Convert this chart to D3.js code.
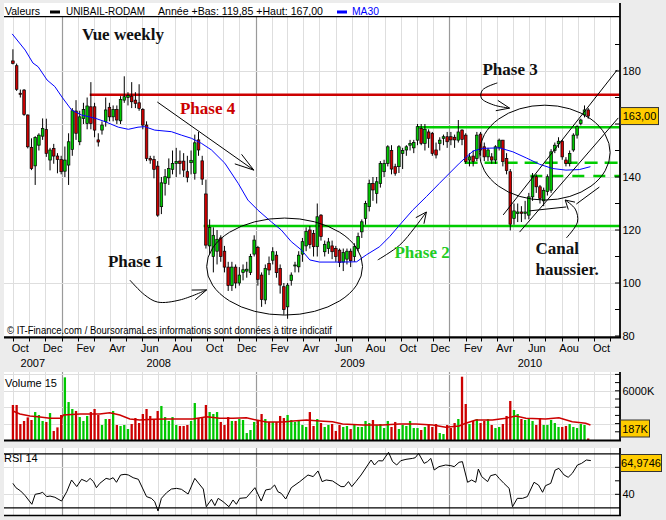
<!DOCTYPE html>
<html>
<head>
<meta charset="utf-8">
<script src="https://cdn.jsdelivr.net/npm/d3@7/dist/d3.min.js"></script>
<style>
html,body{margin:0;padding:0;background:#ececec;overflow:hidden;}
svg{display:block;font-family:"Liberation Sans",Arial,sans-serif;}
</style>
</head>
<body>
<svg id="chart" width="666" height="520"></svg>
<script>
// ================= DATA =================
const stockName = "UNIBAIL-RODAM";
const headerStats = "Année +Bas: 119,85 +Haut: 167,00";
const maLabel = "MA30";
const volumeLabel = "Volume 15";
const rsiLabel = "RSI 14";
const copyright = "© IT-Finance.com / BoursoramaLes informations sont données à titre indicatif";
const firstWeek = [2007, 9, 1];          // weekly candles start Monday 1 Oct 2007
const monthNames = ["Jan","Fev","Mar","Avr","Mai","Jun","Jul","Aou","Sep","Oct","Nov","Dec"];

const opens = [183.8,182.0,171.6,172.8,163.4,151.2,144.2,152.0,155.4,157.9,
 146.4,150.8,147.9,146.6,142.2,144.5,150.4,164.9,153.3,162.1,
 160.2,166.5,166.5,154.0,157.7,160.9,166.3,162.7,165.5,161.2,
 169.0,170.0,170.5,169.0,168.0,165.5,159.6,147.0,146.6,144.1,
 128.8,137.6,139.7,142.9,145.1,146.0,146.0,142.0,145.4,141.4,
 154.0,146.1,133.6,114.0,110.0,112.0,117.0,112.0,106.0,99.0,
 106.0,100.0,104.0,104.5,104.0,110.9,113.4,103.0,93.6,107.4,
 108.6,110.5,105.5,98.6,91.0,101.0,106.5,106.1,110.9,114.0,
 120.0,118.7,113.7,125.6,111.8,113.0,114.0,113.0,112.4,107.9,
 109.0,112.0,110.0,113.0,119.3,124.4,128.8,137.6,133.8,137.6,
 142.0,145.1,150.0,143.9,143.9,148.9,150.2,152.0,151.0,153.9,
 158.3,152.7,157.0,156.5,150.2,152.7,154.6,155.2,155.2,155.0,
 153.9,157.7,155.8,146.4,147.9,147.0,156.2,151.4,147.6,147.6,
 146.4,151.0,153.9,147.0,142.0,124.4,126.2,126.8,126.3,125.6,
 132.5,140.1,136.3,131.0,134.5,135.0,150.0,152.5,153.5,146.4,
 145.1,150.2,155.8,160.2,163.4,165.3];
const highs = [188.2,182.8,173.0,173.2,163.6,154.6,155.4,156.5,162.1,162.0,
 151.0,152.5,149.0,148.0,151.5,156.5,166.0,169.0,165.0,168.0,
 170.0,175.8,168.0,156.5,161.0,170.0,168.0,167.0,167.0,170.5,
 178.0,172.0,175.8,172.0,175.0,166.0,161.0,148.0,148.0,146.0,
 140.0,143.0,147.0,150.0,151.0,150.0,149.0,148.0,150.0,156.0,
 157.0,148.0,139.0,124.0,121.0,120.0,118.0,114.0,108.0,108.0,
 107.0,106.0,107.0,108.0,111.0,118.0,114.0,104.0,107.0,110.0,
 113.5,112.0,107.0,100.0,100.0,104.0,108.0,112.0,117.0,121.0,
 121.5,120.0,130.0,126.0,116.0,117.0,116.0,114.0,113.0,113.0,
 113.0,113.0,115.0,119.0,124.0,131.0,139.0,140.0,140.0,146.0,
 146.5,152.0,152.0,145.0,152.0,151.0,152.0,154.0,154.0,160.0,
 160.0,160.0,158.0,157.0,153.0,155.0,156.0,157.0,157.0,156.0,
 161.5,158.0,156.5,149.0,150.0,157.0,157.0,153.0,151.0,149.0,
 152.0,154.5,154.0,149.0,143.0,130.0,130.0,129.0,131.0,134.0,
 141.5,141.0,137.0,136.0,141.0,150.5,153.0,155.0,154.0,147.5,
 150.0,156.5,159.5,162.0,167.0,166.0];
const lows = [182.5,172.5,170.0,163.1,150.8,142.6,137.0,150.0,154.0,147.6,
 142.5,145.0,141.4,141.0,140.0,137.0,148.0,154.0,152.0,160.0,
 158.0,158.0,155.0,151.5,156.0,159.0,161.0,161.0,160.0,160.0,
 168.0,167.0,166.0,166.0,165.0,158.0,146.0,145.0,139.5,125.0,
 126.0,133.0,137.0,141.0,140.0,141.0,140.0,138.0,141.0,139.0,
 148.0,137.0,113.0,111.0,104.0,107.0,108.0,104.0,97.0,97.0,
 98.0,99.0,101.0,102.0,103.0,110.0,99.0,91.0,92.0,103.0,
 107.0,102.0,96.0,88.0,86.5,99.0,104.0,104.0,108.0,112.0,
 113.0,110.0,110.0,116.0,110.0,111.0,109.0,108.0,106.0,104.5,
 107.0,106.0,108.0,112.0,117.0,122.0,127.0,131.0,130.0,136.0,
 140.0,144.0,141.0,140.5,141.5,143.0,148.0,150.0,149.0,152.0,
 152.0,150.0,151.0,148.0,147.0,150.0,152.0,151.0,152.0,151.0,
 153.0,152.0,145.0,144.0,144.0,146.0,148.0,146.0,146.0,145.0,
 145.0,150.0,144.0,141.0,119.85,122.0,123.0,123.0,124.0,124.0,
 131.0,134.0,130.0,129.0,133.0,134.0,149.0,151.0,146.5,144.0,
 144.0,149.5,154.5,159.5,162.5,162.0];
const closes = [182.9,173.1,171.2,163.6,151.4,143.2,154.9,155.8,158.3,148.9,
 150.2,147.9,146.6,142.0,146.4,153.3,165.0,156.5,162.7,165.5,
 166.8,160.2,157.7,153.2,159.6,165.3,162.7,165.5,161.5,169.3,
 170.3,170.7,168.4,167.8,165.9,159.6,147.0,146.4,142.9,125.6,
 137.8,140.1,143.2,145.1,145.9,145.1,142.6,139.9,146.3,152.9,
 150.2,139.2,114.3,121.0,118.0,116.5,110.0,106.0,99.0,106.0,
 100.0,103.0,105.0,105.2,110.0,116.2,101.4,93.8,105.5,104.9,
 111.8,103.9,99.2,90.0,99.2,103.0,106.8,110.5,115.6,119.5,
 114.5,113.7,125.0,117.5,114.6,115.5,111.8,110.0,107.7,111.5,
 112.0,108.4,113.7,117.5,123.1,130.0,137.6,135.1,138.2,145.1,
 145.1,151.4,143.0,141.4,151.4,150.0,151.4,152.7,153.0,159.0,
 152.7,158.0,154.6,148.9,148.3,153.9,155.2,153.3,154.0,154.0,
 157.0,154.2,145.8,147.6,145.8,155.8,150.2,147.6,150.2,146.4,
 151.4,153.9,145.8,142.4,122.2,127.2,126.8,126.3,126.8,132.5,
 140.1,136.3,131.9,135.0,140.1,149.5,152.0,153.5,147.6,145.1,
 148.9,155.8,159.0,161.5,165.3,163.0];
// weekly volume, in thousands of shares (K)
const volumes = [4270,4270,1950,2320,2760,2440,3410,3050,2320,2200,
 3290,1100,1540,3050,7640,4630,3780,3540,2800,2320,
 2930,3410,3780,3050,1830,2560,2560,3540,1830,1710,
 1830,1340,1950,2680,2070,3170,3780,2930,2440,3540,
 4150,2800,2320,2800,1830,1710,1710,1830,2320,4510,
 2680,2680,4270,3410,3170,3410,2200,1830,2800,2320,
 2320,2560,2440,850,1220,2200,2440,3170,2560,2200,
 2200,2200,2930,2680,3050,2440,2200,2440,1830,1590,
 3410,1710,2560,2070,1590,1830,1950,1100,1830,1590,
 1710,1340,1830,1590,1590,2320,2070,2440,1830,1950,
 1460,2320,1590,2200,1340,1830,1710,2320,1460,1460,
 1220,1590,1950,1590,1950,850,730,1830,1460,2070,
 2560,7720,4390,1950,2320,2560,2070,2320,2560,1830,
 1460,1590,1950,2930,4760,3660,3170,2560,2440,2680,
 2320,1830,2680,1830,1830,2440,2070,1590,1590,1710,
 1950,1590,1460,1950,1830,187];

// MA30 of price (week index, value)
const ma30Week = [-0.2,3.3,5.4,6.8,9.2,11.3,13.2,15.8,18.5,22.1,24.8,28.4,31.1,33.7,35.5,38.2,42.7,45.4,48.1,50.8,53.5,57.1,60.7,63.3,66.0,69.6,72.3,75.0,77.7,80.0,82.6,88.0,92.6,95.2,98.8,101.5,104.2,107.7,111.4,114.9,117.6,120.3,122.1,124.0,126.5,131.1,134.7,138.3,141.9,145.4,149.0,152.6,155.6];
const ma30Value = [194.0,187.9,183.0,181.6,176.6,174.1,170.2,165.3,163.4,162.2,160.9,158.8,158.0,158.8,159.0,157.7,157.1,155.8,154.6,152.7,150.2,145.2,137.6,131.3,127.5,123.1,120.0,115.6,112.5,108.7,107.9,107.9,108.0,110.6,113.7,117.5,121.9,127.5,132.6,137.6,141.4,145.2,147.5,149.8,150.8,151.0,149.5,147.2,144.8,143.2,142.6,142.8,143.9];

// Volume moving average (15)
const volMaWeek = [0,1.9,4.6,7.3,10.0,13.1,13.6,18.1,23.4,26.1,28.8,31.5,34.2,37.8,41.4,45.0,48.5,52.2,55.7,59.3,62.9,65.6,68.3,72.8,75.5,79.1,82.6,86.1,88.8,94.2,99.6,104.1,108.6,113.1,116.6,120.2,122.0,124.7,129.2,132.8,135.5,138.2,143.5,147.1,150.7,154.3,155.6];
const volMaValue = [3540,3170,2930,2800,2650,2650,3050,3170,3170,3330,3050,2560,2440,2520,2560,2560,2560,2840,2650,2650,2720,2440,2200,2200,2320,2440,2320,2230,1950,1830,1830,1950,1950,1830,1550,1710,2040,2440,2440,2650,2930,2650,2560,2720,2230,2040,1830];

// RSI 14
const rsiWeek = [0.0,0.8,2.1,3.3,5.1,6.0,7.3,8.0,9.1,10.0,11.3,13.1,14.5,15.8,17.2,18.5,19.9,20.8,21.7,22.5,23.4,25.1,26.1,27.0,27.9,29.0,30.2,31.1,32.4,33.8,36.0,37.3,38.2,39.1,40.0,41.4,42.7,44.1,45.4,47.2,49.0,50.4,51.3,52.1,53.5,54.4,55.3,56.6,58.2,59.3,60.2,61.1,62.9,65.2,66.9,68.1,69.4,70.5,71.4,72.3,73.5,75.0,77.3,79.5,80.9,82.2,83.3,84.4,86.1,88.4,89.3,90.4,91.3,92.4,93.8,94.7,96.5,97.4,98.5,99.6,101.2,102.3,103.4,104.5,105.9,107.7,108.4,109.3,110.8,111.7,112.6,113.5,114.8,116.6,118.0,118.9,120.2,121.1,122.5,123.6,124.7,125.4,126.3,127.9,128.7,130.1,131.0,132.3,133.7,134.6,135.9,137.3,138.6,140.4,141.6,142.7,143.5,144.9,146.1,147.1,148.5,149.6,150.7,152.1,153.2,154.5,155.7];
const rsiValue = [48.1,44.9,42.4,39.0,32.6,40.0,40.7,41.5,38.3,38.7,37.8,35.0,41.9,50.6,45.7,51.1,49.4,51.8,49.4,44.9,48.1,51.8,51.1,52.3,48.9,54.3,54.8,54.3,52.3,51.1,38.3,37.0,34.6,27.6,37.0,41.2,43.9,44.4,43.7,40.2,51.8,46.9,43.9,30.8,36.3,31.6,37.0,34.6,30.8,35.8,32.6,37.0,37.5,44.9,35.0,43.2,43.9,46.9,41.9,40.7,36.5,44.9,49.4,54.3,53.1,57.3,49.4,50.6,49.9,45.7,45.7,49.4,45.7,49.4,54.3,58.0,65.4,61.7,64.9,64.7,71.1,64.2,61.7,64.9,65.9,66.6,67.1,70.3,62.9,64.2,66.6,58.0,60.5,61.7,61.2,60.5,63.7,64.2,48.9,50.6,48.9,58.7,53.1,49.4,53.8,54.8,51.8,48.1,44.4,30.8,37.0,37.0,38.3,48.9,46.9,41.5,46.4,48.1,58.0,59.2,54.3,52.6,55.5,61.7,62.9,65.4,64.97];

const priceTicks = [80,100,120,140,160,180];
const volTicks = [2000,6000];
const rsiTicks = [40,60];
const lastPriceLabel = "163,00";
const lastVolLabel = "187K";
const lastRsiLabel = "64,9746";

// Hand-drawn analysis (week index, price)
const redLevel = {from:20.7, price:171};
const greenLevels = [{from:51.4, price:121.5}, {from:109.1, price:158.8}];
const dashedLevels = [{from:121.7, price:145.4}, {from:139.4, price:140.4}];
const channelUpper = [[132.1,125.7],[162.8,180.4]];
const channelLower = [[136.5,119.2],[163.1,162.3]];
const phase4Arrow = [[38.9,168.3],[64.9,142.6]];
const phase1Arrow = [[31.5,101.1],[35.5,95.5],[39.0,92.8],[45.0,93.6],[52.2,97.4]];
const phase2Arrow = [[98.3,108.7],[104.2,114.3],[108.2,120.8],[111.4,126.8]];
const phase3Arrow = [[130.5,175.5],[126.5,172.8],[126.2,169.8],[129.5,167.2],[133.8,166.0]];
const canalArrow = [[149.1,117.0],[152.1,123.0],[151.5,127.9],[148.8,131.3]];
const canalStrokes = [[[139.1,127.2],[149.1,128.7]], [[151.8,129.8],[158.0,136.2]]];
const ellipses = [{week:73.2, price:106.2, rw:21, rp:18.3}, {week:143.3, price:149.2, rw:17.6, rp:17.9}];
const noteText = ["Vue weekly","Phase 4","Phase 3","Phase 1","Phase 2","Canal","haussier."];
const noteWeek = [18.6, 45.0, 126.5, 25.6, 102.8, 140.8, 140.8];
const notePrice = [191.7, 163.8, 178.5, 106.2, 109.3, 110.9, 103.0];

// ================= DRAWING =================
const RED = "#cc0000", GREEN = "#00c800", NOTE_GREEN = "#22cc22";
const svg = d3.select("#chart");
const L = 4, R = 620;
const mainTop = 3, headerLine = 16.7, mainBot = 337;
const volTop = 372, volBot = 441;
const rsiTop = 448, rsiBot = 516;

const t0 = new Date(firstWeek[0], firstWeek[1], firstWeek[2]).getTime();
const weekDate = i => new Date(t0 + i * 7 * 864e5);
const x = d3.scaleTime().domain([new Date(2008,0,1), new Date(2010,0,1)]).range([61.7, 449.3]);
const xi = i => x(weekDate(i));
const yP = d3.scaleLinear().domain([80,200]).range([336,18]);
const yV = d3.scaleLinear().domain([0,8000]).range([440,374.4]);
const yR = d3.scaleLinear().domain([30,70]).range([507.8,453.8]);

svg.append("rect").attr("width",666).attr("height",520).attr("fill","#ececec");
[[mainTop,mainBot],[volTop,volBot],[rsiTop,rsiBot]].forEach(([t,b]) =>
  svg.append("rect").attr("x",L).attr("y",t).attr("width",R-L).attr("height",b-t).attr("fill","#fff"));

const defs = svg.append("defs");
defs.append("clipPath").attr("id","clipMain").append("rect").attr("x",L).attr("y",headerLine+0.5).attr("width",R-L).attr("height",mainBot-headerLine-0.5);

// vertical gridlines (months, darker for years)
const monthStarts = d3.timeMonth.range(new Date(2007,8,1), new Date(2010,11,2));
const grid = svg.append("g");
monthStarts.forEach(d => {
  const xx = Math.round(x(d)) + 0.5;
  if (xx <= L + 1 || xx >= R - 1) return;
  const yearLine = d.getMonth() === 0;
  [[headerLine, mainBot],[volTop, volBot],[rsiTop, rsiBot]].forEach(([a,b]) =>
    grid.append("line").attr("x1",xx).attr("x2",xx).attr("y1",a).attr("y2",b)
      .attr("stroke", yearLine ? "#9a9a9a" : "#dedede").attr("stroke-width", yearLine ? 1.2 : 1));
});
// horizontal gridlines
priceTicks.filter(v => v > 80).forEach(v => grid.append("line").attr("x1",L).attr("x2",R)
  .attr("y1",Math.round(yP(v))+0.5).attr("y2",Math.round(yP(v))+0.5).attr("stroke","#dedede"));
[2000,4000,6000,8000].forEach(v => grid.append("line").attr("x1",L).attr("x2",R)
  .attr("y1",Math.round(yV(v))+0.5).attr("y2",Math.round(yV(v))+0.5).attr("stroke","#dedede"));
rsiTicks.forEach(v => grid.append("line").attr("x1",L).attr("x2",R)
  .attr("y1",Math.round(yR(v))+0.5).attr("y2",Math.round(yR(v))+0.5).attr("stroke","#dedede"));

// ---- header ----
const hdr = svg.append("g").attr("font-size",11).attr("fill","#000");
hdr.append("text").attr("x",5).attr("y",15.3).attr("textLength",35).attr("lengthAdjust","spacingAndGlyphs").text("Valeurs");
hdr.append("rect").attr("x",50).attr("y",10.5).attr("width",10).attr("height",3).attr("fill","#000");
hdr.append("text").attr("x",66).attr("y",15.3).attr("textLength",79).attr("lengthAdjust","spacingAndGlyphs").text(stockName);
hdr.append("text").attr("x",158).attr("y",15.3).attr("textLength",165).attr("lengthAdjust","spacingAndGlyphs").text(headerStats);
hdr.append("rect").attr("x",337).attr("y",10.5).attr("width",10).attr("height",3).attr("fill","#0000ff");
hdr.append("text").attr("x",352).attr("y",15.3).attr("textLength",27).attr("lengthAdjust","spacingAndGlyphs").attr("fill","#0000ff").text(maLabel);
svg.append("line").attr("x1",L).attr("x2",R).attr("y1",headerLine).attr("y2",headerLine).attr("stroke","#000").attr("stroke-width",1.3);

// ---- main plot ----
const gM = svg.append("g").attr("clip-path","url(#clipMain)");
const idx = d3.range(opens.length);
const isUp = i => closes[i] >= opens[i];

// horizontal analysis lines
gM.append("line").attr("x1",xi(redLevel.from)).attr("x2",R).attr("y1",yP(redLevel.price)).attr("y2",yP(redLevel.price))
  .attr("stroke",RED).attr("stroke-width",2.5);
greenLevels.forEach(l => gM.append("line").attr("x1",xi(l.from)).attr("x2",R).attr("y1",yP(l.price)).attr("y2",yP(l.price))
  .attr("stroke","#00cc00").attr("stroke-width",2.6));
dashedLevels.forEach((l,k) => gM.append("line").attr("x1",xi(l.from)).attr("x2",R).attr("y1",yP(l.price)).attr("y2",yP(l.price))
  .attr("stroke","#00cc00").attr("stroke-width",2.6).attr("stroke-dasharray", k===0 ? "13,7" : "12,9"));

// candles
gM.selectAll("line.wick").data(idx).join("line").attr("class","wick")
  .attr("x1", i => xi(i)).attr("x2", i => xi(i))
  .attr("y1", i => yP(highs[i])).attr("y2", i => yP(lows[i]))
  .attr("stroke","#000").attr("stroke-width",1);
gM.selectAll("rect.body").data(idx).join("rect").attr("class","body")
  .attr("x", i => xi(i) - 1.3).attr("width", 2.6)
  .attr("y", i => yP(Math.max(opens[i], closes[i])))
  .attr("height", i => Math.max(1, Math.abs(yP(opens[i]) - yP(closes[i]))))
  .attr("fill", i => isUp(i) ? GREEN : RED)
  .attr("stroke","#000").attr("stroke-width",0.7);

// MA30
gM.append("path").datum(d3.zip(ma30Week, ma30Value))
  .attr("d", d3.line().x(d => xi(d[0])).y(d => yP(d[1])))
  .attr("fill","none").attr("stroke","#0000ff").attr("stroke-width",1);

// hand drawn annotations
const ann = gM.append("g").attr("fill","none").attr("stroke","#000").attr("stroke-width",1);
const toPx = pts => pts.map(p => [xi(p[0]), yP(p[1])]);
const curve = d3.line().curve(d3.curveCatmullRom.alpha(0.5));
function arrow(pts, len, ang) {
  const px = toPx(pts);
  ann.append("path").attr("d", curve(px));
  const [x1,y1] = px[px.length-2], [x2,y2] = px[px.length-1];
  const a = Math.atan2(y1-y2, x1-x2);
  [-1,1].forEach(s => {
    const b = a + s*ang*Math.PI/180;
    ann.append("line").attr("x1",x2).attr("y1",y2).attr("x2",x2+len*Math.cos(b)).attr("y2",y2+len*Math.sin(b));
  });
}
arrow(phase4Arrow, 20, 17);
arrow(phase1Arrow, 15, 20);
arrow(phase2Arrow, 12, 25);
arrow(phase3Arrow, 14, 22);
arrow(canalArrow, 10, 30);
[channelUpper, channelLower, ...canalStrokes].forEach(s => ann.append("path").attr("d", d3.line()(toPx(s))));
ellipses.forEach(e => ann.append("ellipse")
  .attr("cx", xi(e.week)).attr("cy", yP(e.price))
  .attr("rx", xi(e.week + e.rw) - xi(e.week)).attr("ry", yP(e.price - e.rp) - yP(e.price)));

// notes
const noteColor = t => t === "Phase 4" ? RED : (t === "Phase 2" ? NOTE_GREEN : "#111");
gM.selectAll("text.note").data(d3.range(noteText.length)).join("text").attr("class","note")
  .attr("x", k => xi(noteWeek[k])).attr("y", k => yP(notePrice[k]))
  .attr("font-family","'Liberation Serif','Times New Roman',serif").attr("font-weight","bold").attr("font-size",17)
  .attr("fill", k => noteColor(noteText[k])).text(k => noteText[k]);

// copyright
svg.append("text").attr("x",7).attr("y",333.5).attr("font-size",10).attr("fill","#000")
  .attr("textLength",325).attr("lengthAdjust","spacingAndGlyphs").text(copyright);

// ---- volume panel ----
const gV = svg.append("g");
gV.selectAll("rect").data(idx).join("rect")
  .attr("x", i => xi(i) - 1.15).attr("width", 2.3)
  .attr("y", i => yV(volumes[i])).attr("height", i => yV(0) - yV(volumes[i]))
  .attr("fill", i => isUp(i) ? GREEN : RED);
gV.append("path").datum(d3.zip(volMaWeek, volMaValue))
  .attr("d", d3.line().x(d => xi(d[0])).y(d => yV(d[1])))
  .attr("fill","none").attr("stroke",RED).attr("stroke-width",1.5);
svg.append("text").attr("x",5).attr("y",386.5).attr("font-size",11).text(volumeLabel);

// ---- RSI panel ----
[30,70].forEach(v => svg.append("line").attr("x1",L).attr("x2",R).attr("y1",yR(v)).attr("y2",yR(v)).attr("stroke","#000").attr("stroke-width",1.3));
svg.append("path").datum(d3.zip(rsiWeek, rsiValue))
  .attr("d", d3.line().x(d => xi(d[0])).y(d => yR(d[1])))
  .attr("fill","none").attr("stroke","#000").attr("stroke-width",1);
svg.append("text").attr("x",4).attr("y",461.5).attr("font-size",11).text(rsiLabel);

// ---- axes ----
const ax = svg.append("g").attr("stroke","#000");
ax.append("line").attr("x1",L).attr("x2",R+1).attr("y1",mainBot+0.3).attr("y2",mainBot+0.3).attr("stroke-width",2.2);
ax.append("line").attr("x1",L).attr("x2",R+1).attr("y1",volBot-0.5).attr("y2",volBot-0.5).attr("stroke-width",2);
ax.append("line").attr("x1",L).attr("x2",R+1).attr("y1",rsiBot-0.5).attr("y2",rsiBot-0.5).attr("stroke-width",1.6);
[[mainTop,mainBot],[volTop,volBot],[rsiTop,rsiBot]].forEach(([a,b]) =>
  ax.append("line").attr("x1",R).attr("x2",R).attr("y1",a).attr("y2",b).attr("stroke-width",1.8));

// month ticks
monthStarts.forEach(d => {
  const xx = Math.round(x(d)) + 0.5;
  if (xx <= L || xx >= R) return;
  ax.append("line").attr("x1",xx).attr("x2",xx).attr("y1",mainBot).attr("y2",mainBot+4.5).attr("stroke-width",1);
});
// value ticks
d3.range(80, 200, 10).forEach(v => ax.append("line").attr("x1",R-5).attr("x2",R).attr("y1",yP(v)).attr("y2",yP(v)).attr("stroke-width",1));
d3.range(1000, 8001, 1000).forEach(v => ax.append("line").attr("x1",R-5).attr("x2",R).attr("y1",yV(v)).attr("y2",yV(v)).attr("stroke-width",1));
[40,50,60].forEach(v => ax.append("line").attr("x1",R-5).attr("x2",R).attr("y1",yR(v)).attr("y2",yR(v)).attr("stroke-width",1));

// value boxes (drawn on top of the right axis; tick labels under them are left out)
const boxes = [
  {yc: yP(closes[closes.length-1]), w: 38, label: lastPriceLabel},
  {yc: 428.5, w: 29, label: lastVolLabel},
  {yc: 463, w: 41, label: lastRsiLabel}
];
const hiddenByBox = yy => boxes.some(b => Math.abs(b.yc - yy) < 12);

const lab = svg.append("g").attr("font-size",11).attr("fill","#000");
priceTicks.forEach(v => { if (!hiddenByBox(yP(v))) lab.append("text").attr("x",R+2.5).attr("y",yP(v)+4).text(v); });
volTicks.forEach(v => { if (!hiddenByBox(yV(v))) lab.append("text").attr("x",R+2.5).attr("y",yV(v)+4).text(v + "K"); });
rsiTicks.forEach(v => { if (!hiddenByBox(yR(v))) lab.append("text").attr("x",R+2.5).attr("y",yR(v)+4).text(v); });

// month labels (every other month) and year labels
const axisEnd = x(new Date(2010,10,1));
monthStarts.forEach(d => {
  if (d.getMonth() % 2 === 0) return;
  const xm = x(new Date(d.getFullYear(), d.getMonth(), 15));
  if (xm < L + 6 || xm > R - 6) return;
  lab.append("text").attr("x",xm).attr("y",352).attr("text-anchor","middle").text(monthNames[d.getMonth()]);
});
[2007,2008,2009,2010].forEach(yr => {
  const a = Math.max(x(new Date(yr,0,1)), L), b = Math.min(x(new Date(yr+1,0,1)), axisEnd);
  lab.append("text").attr("x",(a+b)/2).attr("y",367).attr("text-anchor","middle").text(yr);
});

boxes.forEach(b => {
  svg.append("rect").attr("x",R+0.5).attr("y",b.yc-8.5).attr("width",b.w).attr("height",17)
    .attr("fill","#ffcc00").attr("stroke","#333").attr("stroke-width",1);
  svg.append("text").attr("x",R+0.5+b.w/2).attr("y",b.yc+4).attr("text-anchor","middle").attr("font-size",11).text(b.label);
});
</script>
</body>
</html>
